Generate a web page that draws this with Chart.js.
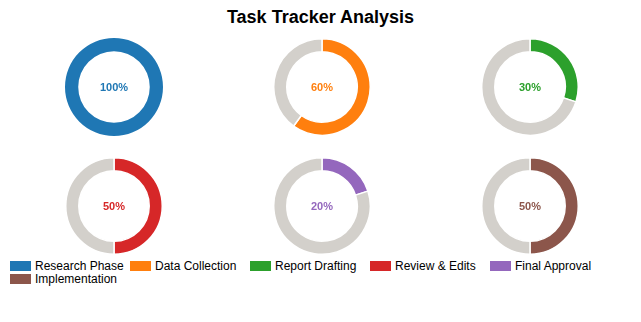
<!DOCTYPE html>
<html>
<head>
<meta charset="utf-8">
<script src="https://cdn.jsdelivr.net/npm/chart.js@4/dist/chart.umd.min.js"></script>
<style>
  html, body { margin:0; padding:0; background:#fff; }
  body { width:641px; height:322px; position:relative; overflow:hidden; font-family: "Liberation Sans", Arial, sans-serif; }
  #title { position:absolute; left:0; width:641px; top:7px; text-align:center; font-weight:bold; font-size:18px; color:#000; line-height:20px; }
  .cell { position:absolute; width:98px; height:98px; }
  #legend { position:absolute; left:10px; top:259px; width:621px; display:flex; flex-wrap:wrap; }
  .item { width:120px; display:flex; align-items:center; height:13px; font-size:12px; color:#000; white-space:nowrap; }
  .box { width:21px; height:10px; margin-right:4px; flex:none; }
</style>
</head>
<body>
<div id="title">Task Tracker Analysis</div>
<div id="charts"></div>
<div id="legend"></div>
<script>
const categories = ["Research Phase", "Data Collection", "Report Drafting", "Review & Edits", "Final Approval", "Implementation"];
const completion = [100, 60, 30, 50, 20, 50];
const colors = ["#1f77b4", "#ff7f0e", "#2ca02c", "#d62728", "#9467bd", "#8c564b"];
const remainderColor = "#d3d0cb";
const centers = [[114, 87], [322, 87], [530, 87], [114, 206], [322, 206], [530, 206]];

const centerText = {
  id: 'centerText',
  afterDraw(chart) {
    const {ctx} = chart;
    const meta = chart.getDatasetMeta(0);
    const arc = meta.data[0];
    const o = chart.options.plugins.centerText;
    ctx.save();
    ctx.font = 'bold 11px "Liberation Sans", Arial, sans-serif';
    ctx.fillStyle = o.color;
    ctx.textAlign = 'center';
    ctx.textBaseline = 'middle';
    ctx.fillText(o.text, arc.x, arc.y + 1);
    ctx.restore();
  }
};

const container = document.getElementById('charts');
categories.forEach((cat, i) => {
  const div = document.createElement('div');
  div.className = 'cell';
  div.style.left = (centers[i][0] - 49) + 'px';
  div.style.top = (centers[i][1] - 49) + 'px';
  const cv = document.createElement('canvas');
  div.appendChild(cv);
  container.appendChild(div);
  new Chart(cv, {
    type: 'doughnut',
    data: {
      labels: [cat, 'Remaining'],
      datasets: [{
        data: [completion[i], 100 - completion[i]],
        backgroundColor: [colors[i], remainderColor],
        borderColor: '#ffffff',
        borderWidth: completion[i] >= 100 ? 0 : 1.5
      }]
    },
    options: {
      responsive: true,
      maintainAspectRatio: false,
      animation: false,
      cutout: '73%',
      layout: { padding: 0 },
      plugins: {
        legend: { display: false },
        tooltip: { enabled: false },
        centerText: { text: completion[i] + '%', color: colors[i] }
      }
    },
    plugins: [centerText]
  });
});

const legend = document.getElementById('legend');
categories.forEach((cat, i) => {
  const it = document.createElement('div');
  it.className = 'item';
  const b = document.createElement('span');
  b.className = 'box';
  b.style.background = colors[i];
  const t = document.createElement('span');
  t.textContent = cat;
  it.appendChild(b);
  it.appendChild(t);
  legend.appendChild(it);
});
</script>
</body>
</html>
